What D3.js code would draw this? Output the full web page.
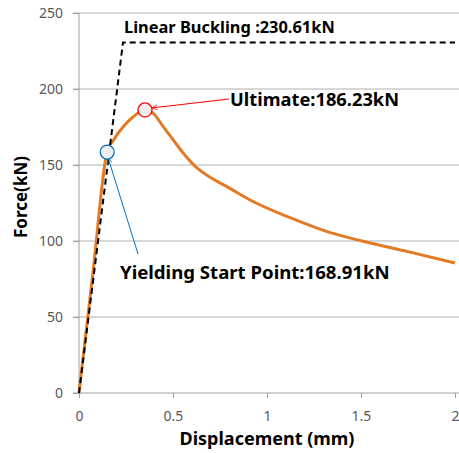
<!DOCTYPE html>
<html>
<head>
<meta charset="utf-8">
<script src="https://cdn.jsdelivr.net/npm/d3@7"></script>
<style>
  body { margin: 0; background: #fff; }
  text { font-family: "Noto Sans", "Open Sans", sans-serif; }
</style>
</head>
<body>
<svg id="chart" width="459" height="453"></svg>
<script>
// values
var dispCurve  = [0, 0.075, 0.149, 0.181, 0.234, 0.287, 0.351, 0.395, 0.448, 0.502, 0.555, 0.617, 0.679, 0.794, 0.91, 1.12, 1.30, 1.505, 1.75, 2.0];
var forceCurve = [0, 80, 158.5, 166, 175, 181.6, 186.23, 184, 175.2, 166.4, 157.7, 149.3, 143.4, 135.3, 127, 115.5, 107, 100, 93, 85.5];
var dispBuckling  = [0, 0.234, 2.0];
var forceBuckling = [0, 230.61, 230.61];
var yieldPoint    = [0.15, 158.5];
var ultimatePoint = [0.351, 186.23];
var xTicks = [0, 0.5, 1, 1.5, 2];
var yTicks = [0, 50, 100, 150, 200, 250];

var svg = d3.select("#chart");
var x = d3.scaleLinear().domain([0, 2]).range([79, 455]);
var y = d3.scaleLinear().domain([0, 250]).range([393, 13]);

var defs = svg.append("defs");
function marker(id, color) {
    defs.append("marker")
        .attr("id", id)
        .attr("viewBox", "0 0 10 10")
        .attr("refX", 9).attr("refY", 5)
        .attr("markerWidth", 6).attr("markerHeight", 6)
        .attr("orient", "auto-start-reverse")
        .append("path")
          .attr("d", "M0,1 L10,5 L0,9")
          .attr("fill", "none")
          .attr("stroke", color)
          .attr("stroke-width", 1.2);
}
marker("arrRed", "#ff0000");
marker("arrBlue", "#0070c0");

// gridlines
svg.append("g")
    .selectAll("line")
    .data(yTicks.slice(1))
    .enter()
    .append("line")
        .attr("x1", 73).attr("x2", 459)
        .attr("y1", d => y(d)).attr("y2", d => y(d))
        .attr("stroke", "#b0b0b0").attr("stroke-width", 1);

// y axis
var yAxis = svg.append("g")
    .attr("transform", "translate(79,0)")
    .call(d3.axisLeft(y).tickValues(yTicks).tickSize(6).tickPadding(10));
// x axis
var xAxis = svg.append("g")
    .attr("transform", "translate(0,393)")
    .call(d3.axisBottom(x).tickValues(xTicks).tickSize(5).tickPadding(13)
        .tickFormat(d3.format("")));

[yAxis, xAxis].forEach(function (a) {
    a.select(".domain").attr("stroke", "#a0a0a0");
    a.selectAll(".tick line").attr("stroke", "#a0a0a0");
    a.selectAll(".tick text")
        .attr("fill", "#595959")
        .style("font-size", "14px")
        .style("font-family", "'Noto Sans', sans-serif");
});
yAxis.select(".domain").attr("d", "M0,13 V393");
xAxis.select(".domain").attr("d", "M73,0 H459");

var line = d3.line()
    .x(d => x(d[0]))
    .y(d => y(d[1]));

// response curve
svg.append("path")
    .datum(d3.zip(dispCurve, forceCurve))
    .attr("d", line.curve(d3.curveMonotoneX))
    .attr("fill", "none")
    .attr("stroke", "#e37a25")
    .attr("stroke-width", 3);

// linear buckling
svg.append("path")
    .datum(d3.zip(dispBuckling, forceBuckling))
    .attr("d", d3.line().x(d => x(d[0])).y(d => y(d[1])))
    .attr("fill", "none")
    .attr("stroke", "#000")
    .attr("stroke-width", 2)
    .attr("stroke-dasharray", "6,4");

// annotation leaders
svg.append("line")
    .attr("x1", 229).attr("y1", 99)
    .attr("x2", x(ultimatePoint[0]) + 7).attr("y2", y(ultimatePoint[1]) - 2)
    .attr("stroke", "#ff0000").attr("stroke-width", 1)
    .attr("marker-end", "url(#arrRed)");
svg.append("line")
    .attr("x1", 138).attr("y1", 254)
    .attr("x2", x(yieldPoint[0]) + 1).attr("y2", y(yieldPoint[1]) + 6)
    .attr("stroke", "#0070c0").attr("stroke-width", 1)
    .attr("marker-end", "url(#arrBlue)");

// key points
svg.append("circle")
    .attr("cx", x(ultimatePoint[0])).attr("cy", y(ultimatePoint[1]))
    .attr("r", 7)
    .attr("fill", "#eeeeee").attr("stroke", "#ff0000").attr("stroke-width", 1.3);
svg.append("circle")
    .attr("cx", x(yieldPoint[0])).attr("cy", y(yieldPoint[1]))
    .attr("r", 7)
    .attr("fill", "#eeeeee").attr("stroke", "#0070c0").attr("stroke-width", 1.3);

// labels
function label(txt, px, py, size) {
    svg.append("text")
        .attr("x", px).attr("y", py)
        .attr("font-size", size + "px")
        .attr("font-weight", "bold")
        .attr("fill", "#000")
        .text(txt);
}
label("Linear Buckling :230.61kN", 124, 33, 16.4);
label("Ultimate:186.23kN", 230, 106, 18.3);
label("Yielding Start Point:168.91kN", 120, 279, 18.6);

svg.append("text")
    .attr("x", 267).attr("y", 445)
    .attr("text-anchor", "middle")
    .attr("font-size", "18px").attr("font-weight", "bold")
    .text("Displacement (mm)");
svg.append("text")
    .attr("transform", "translate(27,197) rotate(-90)")
    .attr("text-anchor", "middle")
    .attr("font-size", "17px").attr("font-weight", "bold")
    .text("Force(kN)");
</script>
</body>
</html>
